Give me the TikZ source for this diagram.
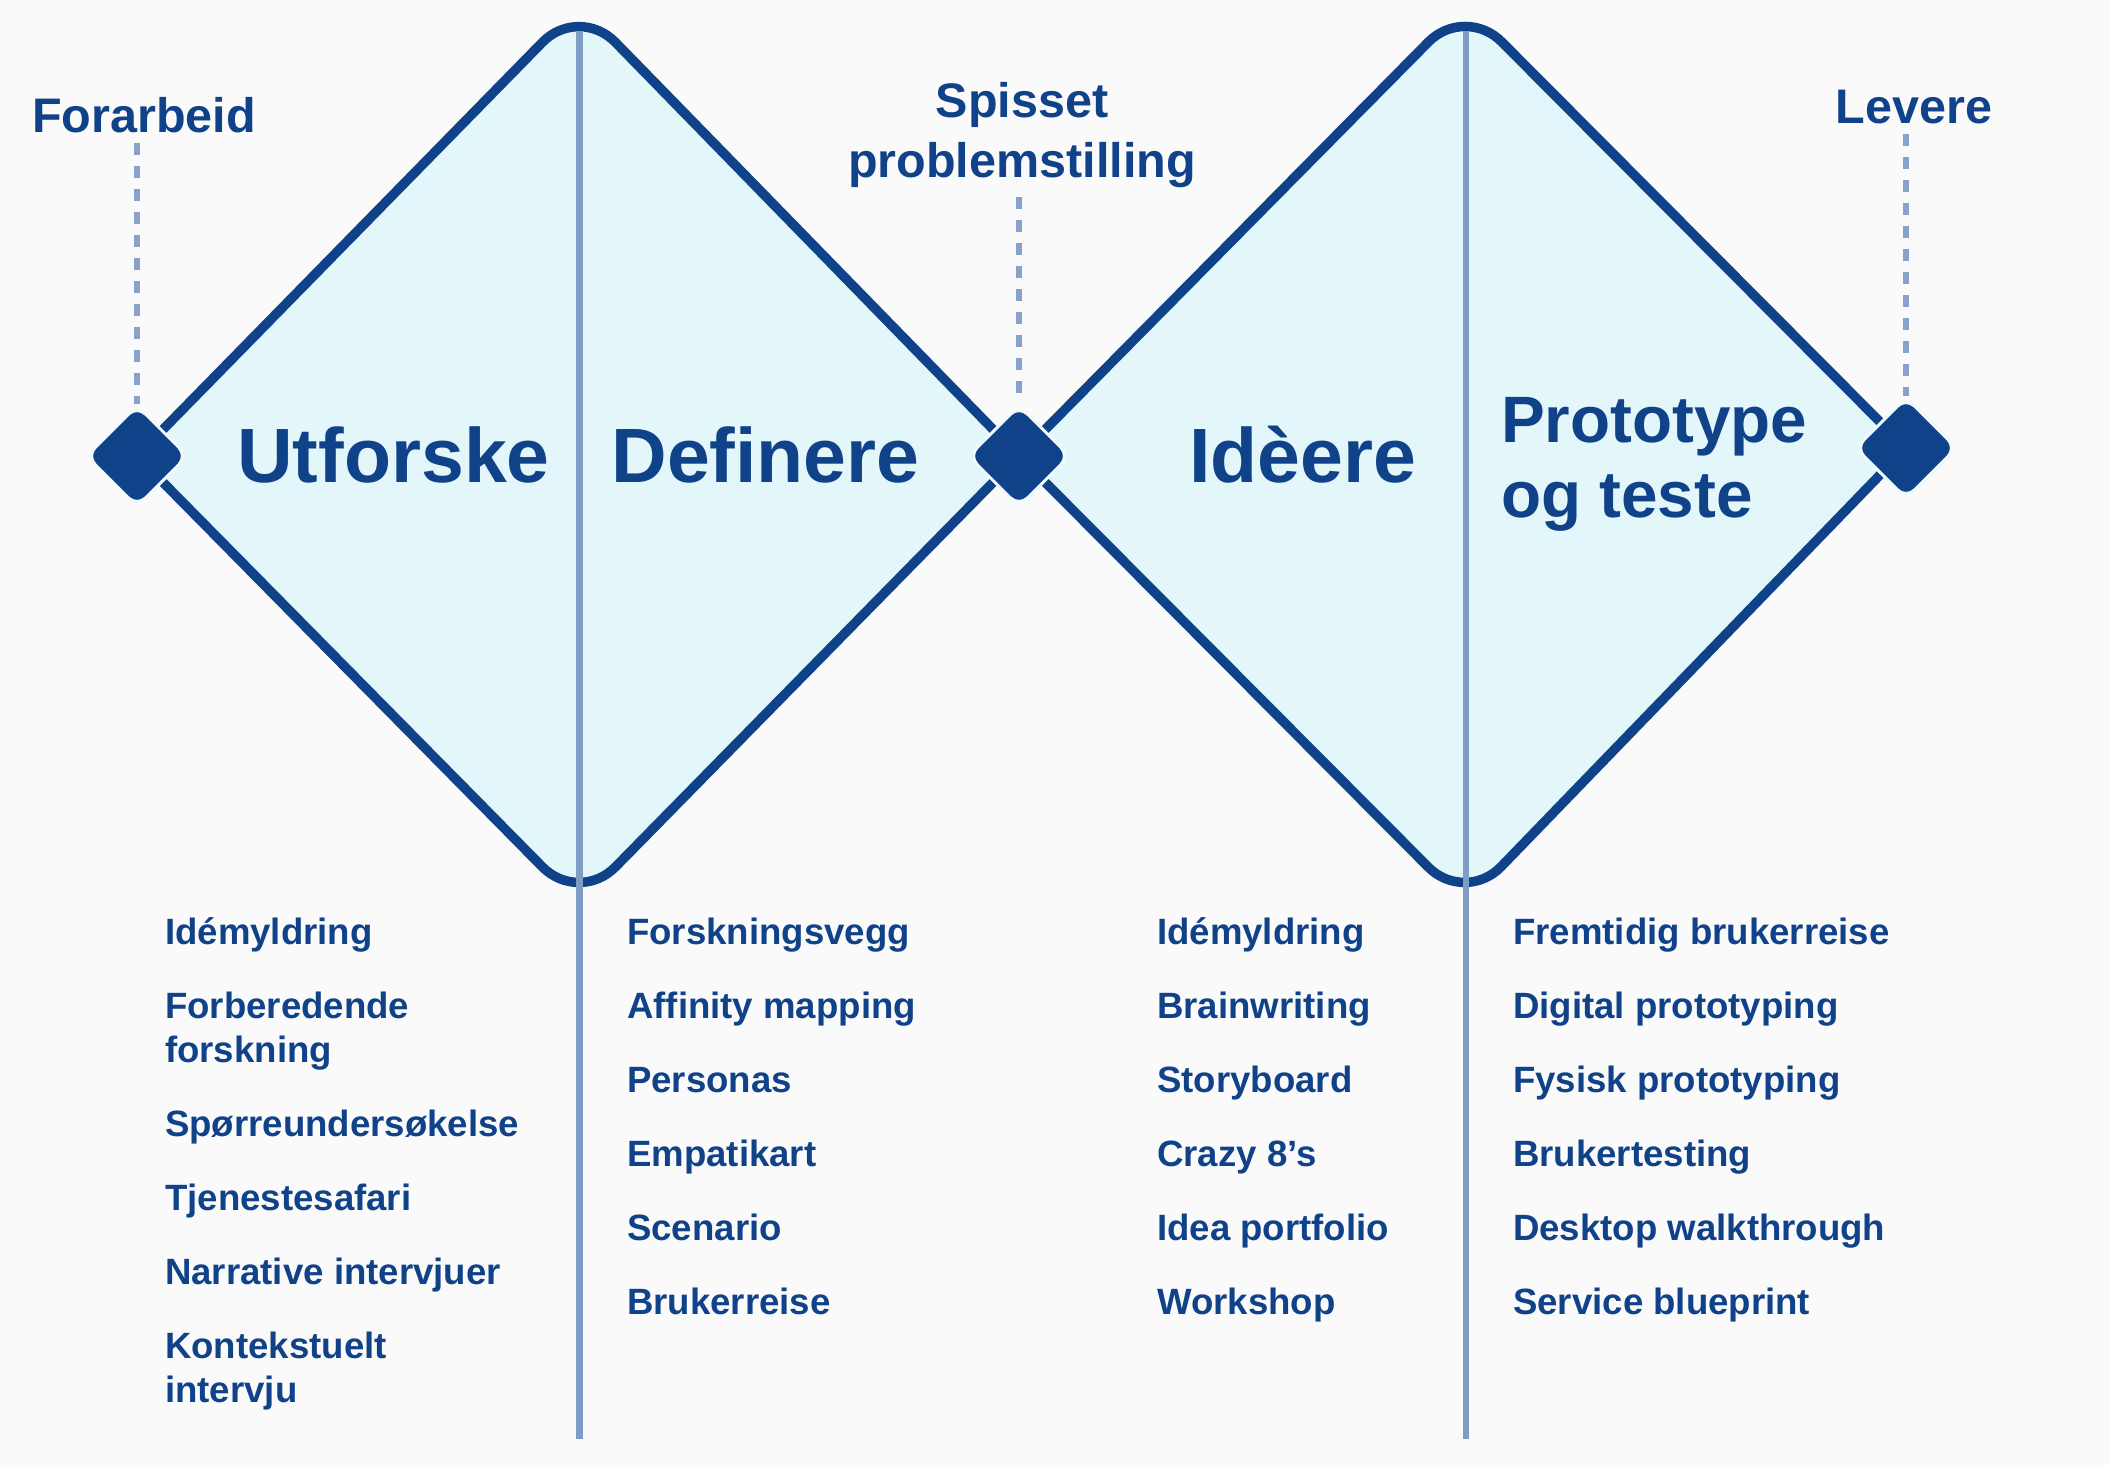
\documentclass[tikz,border=0pt]{standalone}
\usepackage{fontspec}
\setmainfont{Liberation Sans}
\usetikzlibrary{calc,shapes.geometric}

\definecolor{navy}{RGB}{16,66,137}
\definecolor{paleblue}{RGB}{227,247,250}
\definecolor{divblue}{RGB}{125,157,196}
\definecolor{dashblue}{RGB}{137,162,201}
\definecolor{pagebg}{RGB}{250,250,250}
\definecolor{ring}{RGB}{240,250,252}

\begin{document}
\begin{tikzpicture}[x=1pt,y=-1pt,
  outline/.style={draw=navy,line width=9.5pt,line join=round},
  panel/.style={fill=paleblue},
  divider/.style={draw=divblue,line width=6.5pt},
  leader/.style={draw=dashblue,line width=6.5pt,dash pattern=on 12pt off 11pt},
  marker/.style={diamond,aspect=1,minimum width=102pt,minimum height=102pt,
    inner sep=0pt,fill=navy,draw=ring,line width=3pt,rounded corners=12pt},
  phase/.style={text=navy,font=\bfseries\fontsize{77}{90}\selectfont,inner sep=0pt,anchor=base},
  milestone/.style={text=navy,font=\bfseries\fontsize{48.5}{60}\selectfont,inner sep=0pt,
    anchor=base,align=center},
  method/.style={text=navy,font=\bfseries\fontsize{36.6}{44}\selectfont,inner sep=0pt,
    anchor=base west,align=left},
]
% page
\fill[pagebg] (0,0) rectangle (2110,1465);
\useasboundingbox (0,0) rectangle (2110,1465);

% corner points of the two diamonds
\coordinate (L1) at (137,456);  \coordinate (T1) at (579,5);
\coordinate (R1) at (1019,456); \coordinate (B1) at (579,904);
\coordinate (L2) at (1019,456); \coordinate (T2) at (1465,5);
\coordinate (R2) at (1906,448); \coordinate (B2) at (1465,904);

% diamonds: rounded at top and bottom, sharp at the sides
\foreach \i in {1,2}{
  \fill[panel] (L\i) -- ($(T\i)!52pt!(L\i)$)
    .. controls ($(T\i)!23pt!(L\i)$) and ($(T\i)!23pt!(R\i)$) .. ($(T\i)!52pt!(R\i)$)
    -- (R\i) -- ($(B\i)!52pt!(R\i)$)
    .. controls ($(B\i)!23pt!(R\i)$) and ($(B\i)!23pt!(L\i)$) .. ($(B\i)!52pt!(L\i)$)
    -- cycle;
}
\foreach \i in {1,2}{
  \draw[outline] (L\i) -- ($(T\i)!52pt!(L\i)$)
    .. controls ($(T\i)!23pt!(L\i)$) and ($(T\i)!23pt!(R\i)$) .. ($(T\i)!52pt!(R\i)$)
    -- (R\i) -- ($(B\i)!52pt!(R\i)$)
    .. controls ($(B\i)!23pt!(R\i)$) and ($(B\i)!23pt!(L\i)$) .. ($(B\i)!52pt!(L\i)$)
    -- cycle;
}

% phase dividers
\coordinate (div1top) at (579.5,31);  \coordinate (div1bot) at (579.5,1439);
\coordinate (div2top) at (1466,31);   \coordinate (div2bot) at (1466,1439);
\draw[divider] (div1top) -- (div1bot);
\draw[divider] (div2top) -- (div2bot);

% milestones
\node[marker] (m1) at (137,456) {};
\node[marker] (m2) at (1019,456) {};
\node[marker] (m3) at (1906,448) {};

\node[milestone] (lab1) at (144,132) {Forarbeid};
\node[milestone] (lab2) at (1022,177) {Spisset\\problemstilling};
\node[milestone] (lab3) at (1914,123) {Levere};

\draw[leader,shorten <=10pt] (m1 |- lab1.south) -- (m1.north);
\draw[leader,shorten <=10pt] (m2 |- lab2.south) -- (m2.north);
\draw[leader,shorten <=10pt] (m3 |- lab3.south) -- (m3.north);

% phase names
\node[phase] (ph1) at (393.5,482) {Utforske};
\node[phase] (ph2) at (765.5,482) {Definere};
\node[phase] (ph3) at (1302.5,482) {Idèere};
\node[phase,font=\bfseries\fontsize{65.6}{75}\selectfont,anchor=base west,align=left]
  (ph4) at (1501,517) {Prototype\\og teste};

% methods per phase
\node[method] (a1) at (165,944.6)  {Idémyldring};
\node[method] (a2) at (165,1062.6) {Forberedende\\forskning};
\node[method] (a3) at (165,1136.6) {Spørreundersøkelse};
\node[method] (a4) at (165,1210.6) {Tjenestesafari};
\node[method] (a5) at (165,1284.6) {Narrative intervjuer};
\node[method] (a6) at (165,1402.6) {Kontekstuelt\\intervju};

\node[method] (b1) at (627,944.6)  {Forskningsvegg};
\node[method] (b2) at (627,1018.6) {Affinity mapping};
\node[method] (b3) at (627,1092.6) {Personas};
\node[method] (b4) at (627,1166.6) {Empatikart};
\node[method] (b5) at (627,1240.6) {Scenario};
\node[method] (b6) at (627,1314.6) {Brukerreise};

\node[method] (c1) at (1157,944.6)  {Idémyldring};
\node[method] (c2) at (1157,1018.6) {Brainwriting};
\node[method] (c3) at (1157,1092.6) {Storyboard};
\node[method] (c4) at (1157,1166.6) {Crazy 8’s};
\node[method] (c5) at (1157,1240.6) {Idea portfolio};
\node[method] (c6) at (1157,1314.6) {Workshop};

\node[method] (d1) at (1513,944.6)  {Fremtidig brukerreise};
\node[method] (d2) at (1513,1018.6) {Digital prototyping};
\node[method] (d3) at (1513,1092.6) {Fysisk prototyping};
\node[method] (d4) at (1513,1166.6) {Brukertesting};
\node[method] (d5) at (1513,1240.6) {Desktop walkthrough};
\node[method] (d6) at (1513,1314.6) {Service blueprint};
\end{tikzpicture}
\end{document}
